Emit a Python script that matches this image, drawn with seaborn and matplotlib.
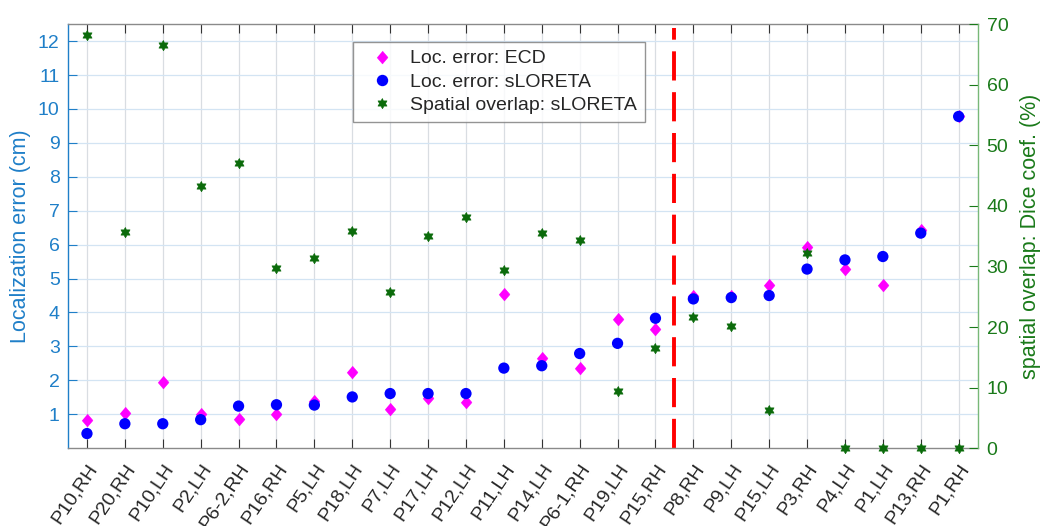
import numpy as np
import pandas as pd
import matplotlib
matplotlib.use("Agg")
import matplotlib.pyplot as plt
from matplotlib.lines import Line2D
import seaborn as sns

# Subjects (hemisphere), ordered by sLORETA localization error
subjects = ["P10,RH", "P20,RH", "P10,LH", "P2,LH", "P6-2,RH", "P16,RH", "P5,LH",
            "P18,LH", "P7,LH", "P17,LH", "P12,LH", "P11,LH", "P14,LH", "P6-1,RH",
            "P19,LH", "P15,RH", "P8,RH", "P9,LH", "P15,LH", "P3,RH", "P4,LH",
            "P1,LH", "P13,RH", "P1,RH"]

# Localization error (cm)
ecd_error = [0.82, 1.05, 1.94, 1.00, 0.87, 1.02, 1.39, 2.25, 1.16, 1.49, 1.36, 4.55,
             2.65, 2.36, 3.81, 3.50, 4.48, 4.50, 4.81, 5.94, 5.27, 4.81, 6.44, 9.80]
sloreta_error = [0.43, 0.72, 0.72, 0.84, 1.24, 1.28, 1.27, 1.51, 1.61, 1.61, 1.61, 2.36,
                 2.43, 2.79, 3.09, 3.83, 4.40, 4.44, 4.50, 5.28, 5.55, 5.65, 6.34, 9.78]

# Spatial overlap, Dice coefficient (%)
sloreta_dice = [68.2, 35.7, 66.5, 43.3, 47.0, 29.8, 31.4, 35.9, 25.8, 35.1, 38.1, 29.4,
                35.6, 34.3, 9.5, 16.6, 21.7, 20.1, 6.3, 32.2, 0.0, 0.0, 0.0, 0.0]

split_after = 16  # dashed separator between subject groups

sns.set_style("white")
plt.rcParams["font.family"] = ["Liberation Sans", "DejaVu Sans"]

BLUE_AX = "#1f7fc8"
GREEN_AX = "#1a7a1a"
GREEN_SPINE = "#78b878"
STAR_GREEN = "#0b6b0b"
TICK_FS = 14
LABEL_FS = 15.5

df = pd.DataFrame({
    "pos": np.arange(1, len(subjects) + 1),
    "subject": subjects,
    "ecd": ecd_error,
    "sloreta": sloreta_error,
    "dice": sloreta_dice,
})

fig = plt.figure(figsize=(10.4, 5.26), dpi=100)
ax = fig.add_axes([0.0654, 0.148, 0.8746, 0.806])
ax2 = ax.twinx()

diamond = [(0, 1), (0.85, 0), (0, -1), (-0.85, 0)]
ang = np.deg2rad(90 + np.arange(12) * 30)
rad = np.where(np.arange(12) % 2 == 0, 1.0, 0.577)
hexagram = list(zip(rad * np.cos(ang), rad * np.sin(ang)))

sns.scatterplot(data=df, x="pos", y="ecd", ax=ax, marker=diamond, s=84,
                color="#ff00ff", edgecolor="#ff00ff", linewidth=0.4, zorder=3,
                clip_on=False, legend=False)
sns.scatterplot(data=df, x="pos", y="sloreta", ax=ax, marker="o", s=66,
                color="#0000ff", edgecolor="none", linewidth=0, zorder=4,
                clip_on=False, legend=False)
sns.scatterplot(data=df, x="pos", y="dice", ax=ax2, marker=hexagram, s=56,
                color=STAR_GREEN, edgecolor=STAR_GREEN, linewidth=0.5, zorder=5,
                clip_on=False, legend=False)

ax.axvline(split_after + 0.5, ymin=0.0, ymax=0.99, color="#ff0000", lw=2.8,
           dashes=(7.5, 3.0), zorder=2)

# Left axis
ax.set_xlim(0.5, len(subjects) + 0.5)
ax.set_ylim(0, 12.5)
ax.set_yticks(range(1, 13))
ax.set_xticks(df["pos"])
ax.set_xticklabels(subjects, rotation=56, ha="right", va="top",
                   rotation_mode="anchor", color="#262626", fontsize=TICK_FS)
ax.tick_params(axis="x", direction="in", length=6.5, top=True, bottom=True,
               color="#333333", pad=9)
ax.tick_params(axis="y", direction="in", length=6.5, colors=BLUE_AX,
               labelsize=TICK_FS, pad=6, left=True, right=False)
ax.set_xlabel("")
ax.set_ylabel("Localization error (cm)", color=BLUE_AX, fontsize=LABEL_FS)
ax.yaxis.set_label_coords(-0.041, 0.5)
ax.grid(True, axis="x", color="#d9dde2", lw=0.9)
ax.grid(True, axis="y", color="#d3e4f3", lw=0.9)
ax.set_axisbelow(True)

for side in ("top", "bottom"):
    ax.spines[side].set_color("#8a8a8a")
    ax.spines[side].set_linewidth(1.0)
ax.spines["left"].set_color(BLUE_AX)
ax.spines["left"].set_linewidth(1.0)
ax.spines["right"].set_visible(False)

# Right axis
ax2.set_ylim(0, 70)
ax2.set_yticks(range(0, 71, 10))
ax2.tick_params(axis="y", direction="in", length=6.5, colors=GREEN_AX,
                labelsize=TICK_FS, pad=6.5, right=True, left=False)
ax2.set_ylabel("spatial overlap: Dice coef. (%)", color=GREEN_AX, fontsize=LABEL_FS)
ax2.yaxis.set_label_coords(1.047, 0.5)
ax2.set_xlabel("")
for side in ("top", "bottom", "left"):
    ax2.spines[side].set_visible(False)
ax2.spines["right"].set_color(GREEN_SPINE)
ax2.spines["right"].set_linewidth(1.0)
ax2.grid(False)

handles = [
    Line2D([], [], ls="none", marker=diamond, ms=9.2, color="#ff00ff", mec="#ff00ff",
           mew=0.4),
    Line2D([], [], ls="none", marker="o", ms=8.2, color="#0000ff", mec="none"),
    Line2D([], [], ls="none", marker=hexagram, ms=7.4, color=STAR_GREEN, mec=STAR_GREEN,
           mew=0.5),
]
labels = ["Loc. error: ECD", "Loc. error: sLORETA", "Spatial overlap: sLORETA"]
leg = ax2.legend(handles, labels, loc="upper left", bbox_to_anchor=(0.313, 0.958),
                 frameon=True, fancybox=False, shadow=False, fontsize=TICK_FS,
                 labelspacing=0.3, handletextpad=0.35, borderpad=0.4,
                 handlelength=2.2, borderaxespad=0)
leg.get_frame().set_edgecolor("#7a7a7a")
leg.get_frame().set_linewidth(1.0)
leg.set_zorder(10)

fig.savefig("out.png", dpi=100)
